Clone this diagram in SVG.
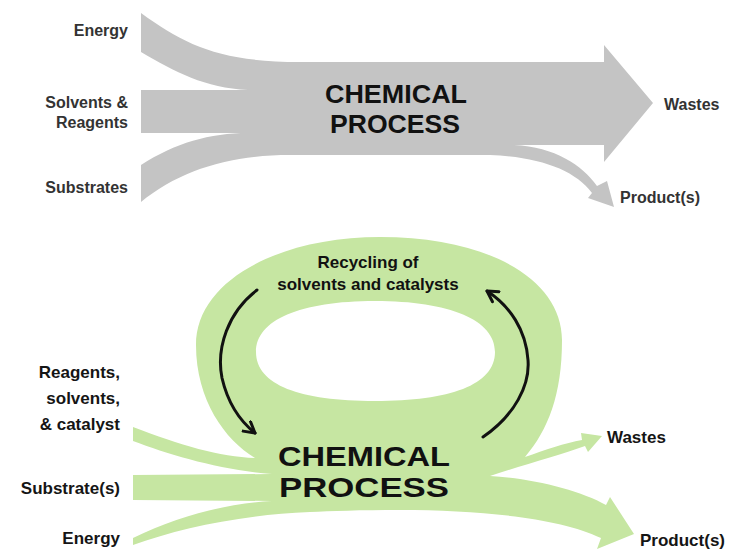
<svg xmlns="http://www.w3.org/2000/svg" width="734" height="549" viewBox="0 0 734 549">
<style>
.lbl{font-family:"Liberation Sans",Arial,sans-serif;font-weight:bold;font-size:16px;fill:#333}
.lblb{font-family:"Liberation Sans",Arial,sans-serif;font-weight:bold;font-size:17px;fill:#151515}
.big{font-family:"Liberation Sans",Arial,sans-serif;font-weight:bold;fill:#111;text-anchor:middle}
.gray{fill:#c4c4c4}
.green{fill:#c6e6a2;fill-rule:evenodd}
.cyc{fill:none;stroke:#111;stroke-width:3;stroke-linecap:round}
</style>
<defs>
<marker id="chev" viewBox="0 0 10 10" refX="8" refY="5" markerWidth="5" markerHeight="5" orient="auto">
<path d="M1,1 L8,5 L1,9" fill="none" stroke="#111" stroke-width="2" stroke-linecap="round" stroke-linejoin="round"/>
</marker>
</defs>
<rect width="734" height="549" fill="#fff"/>

<g id="conventional-process">
<path class="gray" d="M141,13 C185,45 220,62 300,62 L604,62 L604,45 L653,103 L604,162 L604,145 L514,145 C555,147 582,165 597,186 L607,181 L614,207 L588,198 L592,193 C575,170 540,157 490,155 L290,155 C230,155 180,170 141,202 L141,165 C175,143 210,133 248,133 L141,133 L141,90 L248,90 C205,88 175,72 141,52 Z"/>
<text class="big" x="396" y="103" font-size="25" textLength="142" lengthAdjust="spacingAndGlyphs">CHEMICAL</text>
<text class="big" x="395" y="133" font-size="25" textLength="130" lengthAdjust="spacingAndGlyphs">PROCESS</text>
</g>

<g id="top-labels">
<text class="lbl" x="128" y="36" text-anchor="end">Energy</text>
<text class="lbl" x="128" y="108" text-anchor="end">Solvents &amp;</text>
<text class="lbl" x="128" y="128" text-anchor="end">Reagents</text>
<text class="lbl" x="128" y="193" text-anchor="end">Substrates</text>
<text class="lbl" x="664" y="110">Wastes</text>
<text class="lbl" x="620" y="203">Product(s)</text>
</g>

<g id="green-process">
<path class="green" d="M380,237 C490,237 562,280 562,340 C562,395 548,430 525,457 C545,450 565,443 582,440 L581,433 L602,436 L588,452 L585,446 C560,455 520,466 490,476 C530,478 580,490 606,505 L610,497 L634,534 L597,549 L601,538 C560,518 480,510 400,510 C360,510 330,511 310,512 C240,515 180,528 133,545 L133,538 C180,515 230,503 272,501 L133,500 L133,475 L272,474 C220,470 170,455 133,441 L133,427 C180,445 220,457 255,458 C225,440 196,400 196,345 C196,280 280,237 380,237 Z M375,301 C450,301 495,320 495,352 C495,385 450,401 375,401 C300,401 256,385 256,352 C256,320 300,301 375,301 Z"/>
<text class="big" x="364" y="466" font-size="28" textLength="172" lengthAdjust="spacingAndGlyphs">CHEMICAL</text>
<text class="big" x="364" y="497" font-size="28" textLength="170" lengthAdjust="spacingAndGlyphs">PROCESS</text>
<text class="big" x="368" y="268" font-size="17">Recycling of</text>
<text class="big" x="368" y="290" font-size="17">solvents and catalysts</text>
</g>

<g id="connectors">
<path class="cyc" marker-end="url(#chev)" d="M257,290 C228,312 216,348 222,378 C228,404 240,421 255,433"/>
<path class="cyc" marker-end="url(#chev)" d="M483,437 C515,415 530,385 528,360 C526,330 510,306 487,291"/>
</g>

<g id="bottom-labels">
<text class="lblb" x="120" y="378" text-anchor="end">Reagents,</text>
<text class="lblb" x="120" y="404" text-anchor="end">solvents,</text>
<text class="lblb" x="120" y="430" text-anchor="end">&amp; catalyst</text>
<text class="lblb" x="120" y="494" text-anchor="end">Substrate(s)</text>
<text class="lblb" x="120" y="544" text-anchor="end">Energy</text>
<text class="lblb" x="607" y="443">Wastes</text>
<text class="lblb" x="640" y="546">Product(s)</text>
</g>
</svg>
